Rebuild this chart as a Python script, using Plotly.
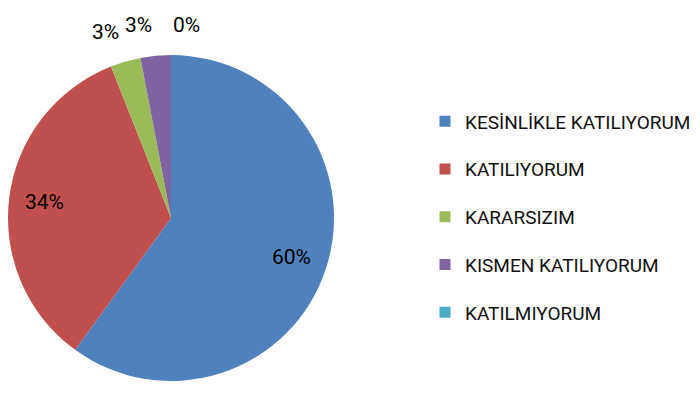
import math
import plotly.graph_objects as go

categories = ["KESİNLİKLE KATILIYORUM", "KATILIYORUM", "KARARSIZIM", "KISMEN KATILIYORUM", "KATILMIYORUM"]
values = [60, 34, 3, 3, 0]
colors = ["#4F81BD", "#C0504D", "#9BBB59", "#8064A2", "#4BACC6"]

FONT = "Roboto"
W, H = 700, 408
# pie geometry in figure pixels (page body adds an 8px offset)
CX, CY, R = 163, 210, 163

fig = go.Figure()
fig.add_trace(go.Pie(
    labels=categories,
    values=values,
    sort=False,
    direction="clockwise",
    rotation=0,
    marker=dict(colors=colors, line=dict(width=0)),
    textinfo="none",
    showlegend=False,
    hoverinfo="label+percent",
    domain=dict(x=[(CX - R) / W, (CX + R) / W], y=[(H - CY - R) / H, (H - CY + R) / H]),
))

# data labels placed along each slice's mid angle
total = sum(values)
cum = 0
for v in values:
    frac = v / total
    mid = 2 * math.pi * (cum + frac / 2)
    cum += frac
    s, c = math.sin(mid), math.cos(mid)
    if frac >= 0.1:
        rr, xa, ya = 0.78 * R, "center", "middle"
    else:
        rr = 1.1 * R
        xa = "left" if s >= -1e-9 else "right"
        ya = "bottom"
    px, py = CX + rr * s, CY - rr * c
    fig.add_annotation(
        x=px / W, y=(H - py) / H, xref="paper", yref="paper",
        text=f"{round(frac * 100)}%", showarrow=False,
        xanchor=xa, yanchor=ya,
        font=dict(family=FONT, size=21, color="#000000"),
    )

for i, (cat, col) in enumerate(zip(categories, colors)):
    fig.add_trace(go.Scatter(
        x=[None], y=[None], mode="markers", name=cat,
        marker=dict(symbol="square", size=11, color=col),
        legendgroup=f"g{i}", showlegend=True,
    ))

fig.update_layout(
    width=W, height=H,
    margin=dict(l=0, r=0, t=0, b=0),
    paper_bgcolor="white", plot_bgcolor="white",
    xaxis=dict(visible=False), yaxis=dict(visible=False),
    legend=dict(
        x=417 / W, xanchor="left", y=(H - 209) / H, yanchor="middle",
        traceorder="grouped", tracegroupgap=20,
        font=dict(family=FONT, size=19, color="#111111"),
        bgcolor="rgba(0,0,0,0)", itemclick=False,
    ),
)

fig.write_html("out.html")
